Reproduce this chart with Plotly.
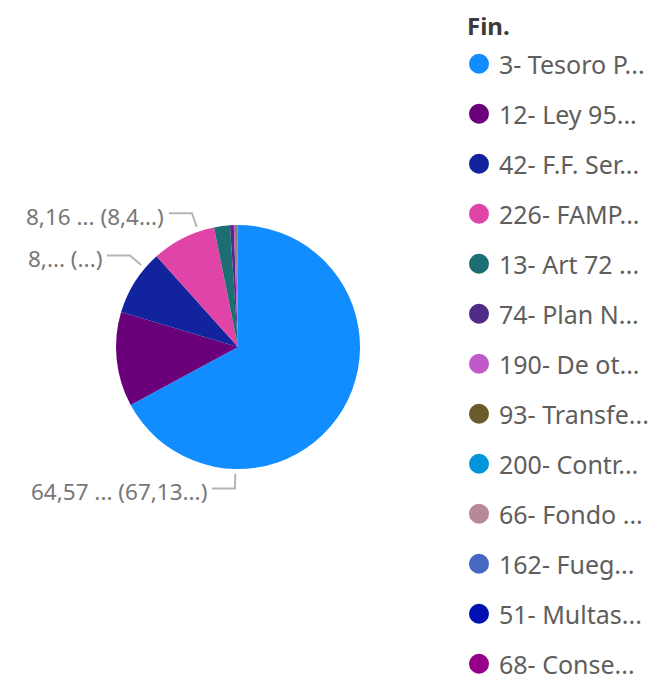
import math
import plotly.graph_objects as go

# ---------------- data ----------------
categories = [
    "3- Tesoro P...", "12- Ley 95...", "42- F.F. Ser...", "226- FAMP...",
    "13- Art 72 ...", "74- Plan N...", "190- De ot...", "93- Transfe...",
    "200- Contr...", "66- Fondo ...", "162- Fueg...", "51- Multas...",
    "68- Conse...",
]
values = [64.57, 12.02, 8.42, 8.16, 2.02, 0.48, 0.29, 0.10, 0.06, 0.04, 0.02, 0.01, 0.01]
colors = [
    "#118DFF", "#6B007B", "#12239E", "#E044A7", "#1C6E72", "#4F2D87",
    "#C05ACA", "#6B5A2B", "#0096D9", "#B88896", "#4668C5", "#0011B4",
    "#960088",
]
label_slices = [0, 2, 3]
label_texts = ["64,57 ... (67,13...)", "8,... (...)", "8,16 ... (8,4...)"]
legend_title = "Fin."

# ---------------- geometry (layout) ----------------
W, H = 670, 683
CX, CY, R = 230, 339, 122
FONT = "Noto Sans, Open Sans, sans-serif"


def px_to_paper(x, y):
    return x / W, 1 - y / H


fig = go.Figure()

fig.add_trace(go.Pie(
    labels=categories,
    values=values,
    marker=dict(colors=colors, line=dict(width=0)),
    sort=False,
    direction="clockwise",
    rotation=0,
    textinfo="none",
    showlegend=False,
    domain=dict(x=[(CX - R) / W, (CX + R) / W], y=[1 - (CY + R) / H, 1 - (CY - R) / H]),
    hovertemplate="%{label}<br>%{value} (%{percent})<extra></extra>",
))

# legend entries (round markers like the original)
for cat, col in zip(categories, colors):
    fig.add_trace(go.Scatter(
        x=[None], y=[None], mode="markers", name=cat, legendgroup=cat,
        marker=dict(size=16, color=col, line=dict(width=4, color=col)),
        hoverinfo="skip",
    ))

# leader lines and data labels computed from the slice angles
total = sum(values)
cum = [0]
for v in values:
    cum.append(cum[-1] + v)

shapes, annotations = [], []
for idx, txt in zip(label_slices, label_texts):
    a0 = cum[idx] / total * 360
    a1 = cum[idx + 1] / total * 360
    ang = math.radians(a0 + 0.75 * (a1 - a0))

    def pt(r):
        return CX + r * math.sin(ang), CY - r * math.cos(ang)

    x0, y0 = pt(R * 1.04)
    x1, y1 = pt(R * 1.16)
    side = -1 if math.sin(ang) < 0 else 1
    x2, y2 = x1 + side * 23, y1
    p0, p1, p2 = px_to_paper(x0, y0), px_to_paper(x1, y1), px_to_paper(x2, y2)
    shapes.append(dict(
        type="path", xref="paper", yref="paper",
        path=f"M {p0[0]},{p0[1]} L {p1[0]},{p1[1]} L {p2[0]},{p2[1]}",
        line=dict(color="#B5B5B5", width=2),
    ))
    tx, ty = px_to_paper(x2 + side * 3, y2 + 3)
    annotations.append(dict(
        x=tx, y=ty, xref="paper", yref="paper", text=txt, showarrow=False,
        xanchor="right" if side < 0 else "left", yanchor="middle",
        font=dict(family=FONT, size=22.5, color="#777777"),
    ))

# legend title
annotations.append(dict(
    x=458 / W, y=1, xref="paper", yref="paper", text=f"<b>{legend_title}</b>",
    showarrow=False, xanchor="left", yanchor="top", borderpad=0,
    font=dict(family=FONT, size=24, color="#3B3A39"),
))

fig.update_layout(
    width=W, height=H,
    margin=dict(l=0, r=0, t=0, b=0),
    paper_bgcolor="white", plot_bgcolor="white",
    xaxis=dict(visible=False), yaxis=dict(visible=False),
    shapes=shapes, annotations=annotations,
    showlegend=True,
    legend=dict(
        x=451 / W, y=1 - 33 / H, xanchor="left", yanchor="top",
        font=dict(family=FONT, size=25, color="#605E5C"),
        tracegroupgap=14.5, itemwidth=30, bgcolor="rgba(0,0,0,0)",
    ),
    font=dict(family=FONT),
)

fig.write_html("out.html")
